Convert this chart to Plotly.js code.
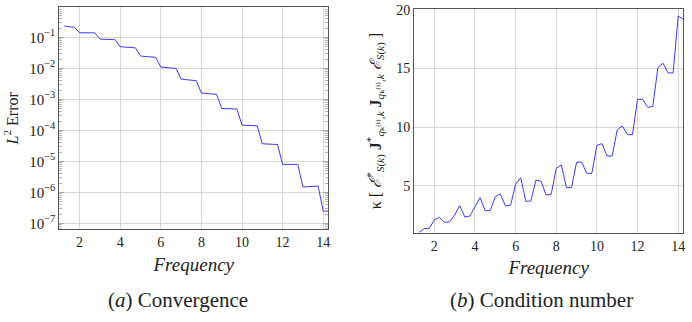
<!DOCTYPE html>
<html>
<head>
  <meta charset="UTF-8" />
  <script src="https://cdn.plot.ly/plotly-3.0.1.min.js"></script>
  <style>
    body { margin: 0; background: #fff; }
    #chart { width: 692px; height: 322px; }
  </style>
</head>
<body>
  <div id="chart"></div>
  <script>
    // frequencies 1.25 .. 14.25, step 0.25
    const freq = [
      1.25, 1.5, 1.75,
      2, 2.25, 2.5, 2.75, 3, 3.25, 3.5, 3.75,
      4, 4.25, 4.5, 4.75, 5, 5.25, 5.5, 5.75,
      6, 6.25, 6.5, 6.75, 7, 7.25, 7.5, 7.75,
      8, 8.25, 8.5, 8.75, 9, 9.25, 9.5, 9.75,
      10, 10.25, 10.5, 10.75, 11, 11.25, 11.5, 11.75,
      12, 12.25, 12.5, 12.75, 13, 13.25, 13.5, 13.75,
      14, 14.25
    ];

    // (a) L2 error
    const errorL2 = [
      0.232, 0.22, 0.21,
      0.141, 0.141, 0.141, 0.140, 0.088, 0.087, 0.086, 0.084,
      0.050, 0.049, 0.048, 0.046, 0.025, 0.0245, 0.024, 0.0227,
      0.011, 0.0108, 0.0105, 0.0100, 0.0045, 0.0044, 0.0042, 0.0040,
      0.0016, 0.00157, 0.00152, 0.00145, 5.1e-4, 5.05e-4, 5.0e-4, 4.9e-4,
      1.48e-4, 1.46e-4, 1.44e-4, 1.40e-4, 3.7e-5, 3.65e-5, 3.6e-5, 3.5e-5,
      8.0e-6, 8.0e-6, 8.0e-6, 8.0e-6, 1.5e-6, 1.52e-6, 1.55e-6, 1.6e-6,
      2.5e-7, 2.5e-7
    ];

    // (b) condition number
    const condNumber = [
      1.0, 1.33, 1.35,
      2.07, 2.29, 1.87, 1.9, 2.5, 3.29, 2.32, 2.4,
      3.2, 3.97, 2.86, 2.86, 4.06, 4.29, 3.26, 3.32,
      5.11, 5.68, 3.66, 3.69, 5.48, 5.37, 4.2, 4.26,
      6.48, 6.76, 4.83, 4.83, 7.0, 7.0, 6.05, 6.05,
      8.44, 8.58, 7.53, 7.53, 9.75, 10.09, 9.35, 9.35,
      12.37, 12.37, 11.69, 11.75, 15.08, 15.45, 14.62, 14.62,
      19.49, 19.2
    ];

    const xTicks = [2, 4, 6, 8, 10, 12, 14];
    const errTickVals = [1e-7, 1e-6, 1e-5, 1e-4, 1e-3, 1e-2, 1e-1];
    const errTickText = ['10<sup>−7</sup>', '10<sup>−6</sup>', '10<sup>−5</sup>', '10<sup>−4</sup>',
                         '10<sup>−3</sup>', '10<sup>−2</sup>', '10<sup>−1</sup>'];
    const condTicks = [5, 10, 15, 20];

    const serif = 'Liberation Serif, DejaVu Serif, serif';
    const frame = '#555';
    const grid = '#d6d6d6';
    const ink = '#222';

    const baseX = {
      range: [1, 14.25],
      tickvals: xTicks,
      showgrid: true, gridcolor: grid, gridwidth: 1,
      showline: true, linecolor: frame, linewidth: 1, mirror: true,
      ticks: '', zeroline: false,
      tickfont: { family: serif, size: 14, color: ink },
      title: { text: '<i>Frequency</i>', font: { family: serif, size: 19, color: ink }, standoff: 8 }
    };

    const traces = [
      {
        x: freq, y: errorL2, type: 'scatter', mode: 'lines',
        line: { color: '#3b3bff', width: 1 },
        xaxis: 'x', yaxis: 'y', hoverinfo: 'skip'
      },
      {
        x: freq, y: condNumber, type: 'scatter', mode: 'lines',
        line: { color: '#3b3bff', width: 1 },
        xaxis: 'x2', yaxis: 'y2', hoverinfo: 'skip'
      }
    ];

    const layout = {
      width: 692, height: 322,
      margin: { l: 0, r: 0, t: 0, b: 0 },
      paper_bgcolor: '#fff', plot_bgcolor: '#fff',
      showlegend: false,
      font: { family: serif, color: ink },
      xaxis: Object.assign({}, baseX, { domain: [0.0857, 0.4744], anchor: 'y' }),
      yaxis: {
        domain: [0.2879, 0.9773], anchor: 'x',
        type: 'log', range: [-7.19, -0.03],
        tickvals: errTickVals, ticktext: errTickText,
        showgrid: true, gridcolor: grid,
        showline: true, linecolor: frame, linewidth: 1, mirror: 'allticks',
        ticks: 'inside', ticklen: 5, tickcolor: '#aaa',
        minor: { ticks: 'inside', ticklen: 3, tickcolor: '#b4b4b4', dtick: 'D1', showgrid: false },
        zeroline: false,
        tickfont: { family: serif, size: 15, color: ink },
        title: { text: '<i>L</i><sup>2</sup> Error', font: { family: serif, size: 16, color: ink }, standoff: 6 }
      },
      xaxis2: Object.assign({}, baseX, { domain: [0.5983, 0.9874], anchor: 'y2' }),
      yaxis2: {
        domain: [0.2773, 0.9711], anchor: 'x2',
        range: [0.98, 20.05],
        tickvals: condTicks,
        showgrid: true, gridcolor: grid,
        showline: true, linecolor: frame, linewidth: 1, mirror: true,
        ticks: '', zeroline: false,
        tickfont: { family: serif, size: 14, color: ink },
        title: {
          text: 'κ [ <i>ℰ</i><sup>*</sup><sub><i>S</i>(<i>k</i>)</sub> <b>J</b><sup>*</sup><sub><i>q</i>ₖ⁽ⁱ⁾,<i>k</i></sub> ' +
                '<b>J</b><sub><i>q</i>ₖ⁽ⁱ⁾,<i>k</i></sub> <i>ℰ</i><sub><i>S</i>(<i>k</i>)</sub> ]',
          font: { family: serif, size: 16, color: ink }, standoff: 10
        }
      },
      annotations: [
        {
          text: '(<i>a</i>) Convergence', xref: 'paper', yref: 'paper',
          x: 178 / 692, y: 1 - 300 / 322, xanchor: 'center', yanchor: 'middle',
          showarrow: false, font: { family: serif, size: 21, color: ink }
        },
        {
          text: '(<i>b</i>) Condition number', xref: 'paper', yref: 'paper',
          x: 541 / 692, y: 1 - 300 / 322, xanchor: 'center', yanchor: 'middle',
          showarrow: false, font: { family: serif, size: 21, color: ink }
        }
      ]
    };

    Plotly.newPlot('chart', traces, layout, { staticPlot: true, displayModeBar: false });
  </script>
</body>
</html>
